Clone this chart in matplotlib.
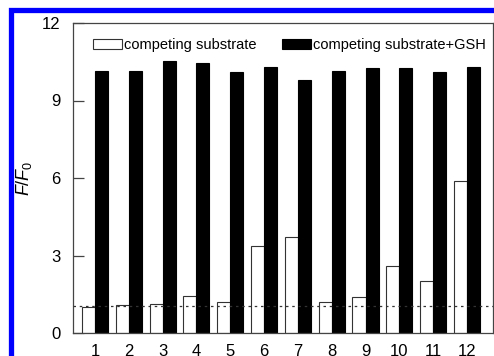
import numpy as np
import matplotlib.pyplot as plt
from matplotlib.patches import Rectangle

plt.rcParams['font.family'] = ['Liberation Sans', 'DejaVu Sans']
plt.rcParams['mathtext.fontset'] = 'custom'
plt.rcParams['mathtext.it'] = 'Liberation Sans:italic'
plt.rcParams['mathtext.rm'] = 'Liberation Sans'

# Fluorescence response F/F0 for each competing substrate, without and with GSH
substrates = ['1', '2', '3', '4', '5', '6', '7', '8', '9', '10', '11', '12']
f_substrate = [1.00, 1.08, 1.12, 1.45, 1.19, 3.37, 3.73, 1.19, 1.41, 2.58, 2.01, 5.90]
f_with_gsh = [10.15, 10.13, 10.53, 10.44, 10.12, 10.29, 9.79, 10.13, 10.25, 10.26, 10.09, 10.31]
baseline = 1.06
y_ticks = [0, 3, 6, 9, 12]

W, H = 494, 356
fig = plt.figure(figsize=(W / 100, H / 100), dpi=100)
ax = fig.add_axes([73 / W, 23 / H, 420 / W, 310 / H])

x = np.arange(1, len(substrates) + 1)
bw = 0.385
ax.bar(x - bw / 2, f_substrate, width=bw, facecolor='white', edgecolor='#333333',
       linewidth=0.8, label='competing substrate', zorder=2)
ax.bar(x + bw / 2, f_with_gsh, width=bw, facecolor='black', edgecolor='black',
       linewidth=0.8, label='competing substrate+GSH', zorder=2)

ax.axhline(baseline, color='#333333', linewidth=0.9, linestyle=(0, (2, 3)), zorder=3)

ax.set_xlim(0.35, 12.77)
ax.set_ylim(0, 12)
ax.set_xticks(x)
ax.set_xticklabels(substrates)
ax.set_yticks(y_ticks)
ax.tick_params(axis='x', length=0, pad=8, labelsize=12)
ax.tick_params(axis='y', direction='in', length=8, width=0.9, color='#444444',
               pad=9, labelsize=12)
for s in ax.spines.values():
    s.set_color('#444444')
    s.set_linewidth(0.9)

ax.set_ylabel(r'$F/F_0$', fontsize=13, labelpad=6)

ax.legend(loc='center left', bbox_to_anchor=(20 / 420, 1 - 22 / 310), ncol=2,
          frameon=False, fontsize=10.5, handlelength=2.0, handleheight=0.7,
          handletextpad=0.15, columnspacing=1.7, borderpad=0, borderaxespad=0)

# blue frame around the panel
fig.patches.append(Rectangle((10.5 / W, 1 - 358 / H), 1.2, (358 - 10.5) / H,
                             transform=fig.transFigure, fill=False,
                             edgecolor='#0000ff', linewidth=3.8, zorder=10))

fig.savefig('out.png', dpi=100)
